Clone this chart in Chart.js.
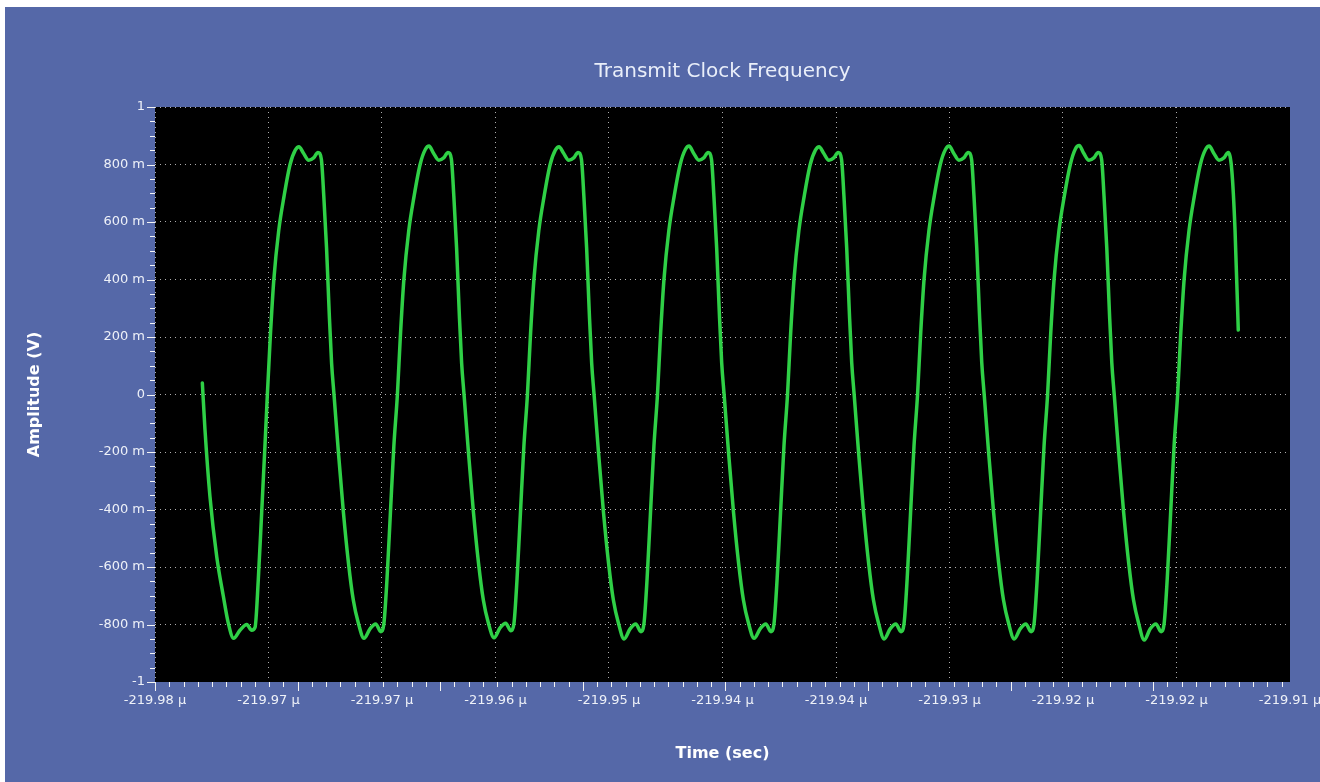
<!DOCTYPE html>
<html>
<head>
<meta charset="utf-8">
<title>Transmit Clock Frequency</title>
<script src="https://cdn.jsdelivr.net/npm/chart.js@4/dist/chart.umd.min.js"></script>
<style>
  html, body { margin: 0; padding: 0; background: #ffffff; }
  #panel { position: absolute; left: 5px; top: 7px; width: 1315px; height: 775px; background: #5568a8; }
  canvas { display: block; }
</style>
</head>
<body>
<div id="panel"><canvas id="scope" width="1315" height="775"></canvas></div>
<script>
// Capture window (µs) and axis ticks
const windowStartUs = -219.98;
const windowEndUs = -219.91;
const xTickValues = [-219.980, -219.973, -219.966, -219.959, -219.952, -219.945, -219.938, -219.931, -219.924, -219.917, -219.910];
const xTickLabels = ['-219.98 µ', '-219.97 µ', '-219.97 µ', '-219.96 µ', '-219.95 µ', '-219.94 µ', '-219.94 µ', '-219.93 µ', '-219.92 µ', '-219.92 µ', '-219.91 µ'];
const yTickValues = [-1, -0.8, -0.6, -0.4, -0.2, 0, 0.2, 0.4, 0.6, 0.8, 1];
const yTickLabels = ['-1', '-800 m', '-600 m', '-400 m', '-200 m', '0', '200 m', '400 m', '600 m', '800 m', '1'];

// Trace samples: [ns after window start, volts]
const leadIn = [[2.92,0.04],[3.08,-0.12],[3.39,-0.355],[3.81,-0.565],[4.21,-0.70],[4.52,-0.795],[4.85,-0.848],[5.24,-0.82],[5.66,-0.80],[5.96,-0.82],[6.17,-0.81],[6.37,-0.645],[6.58,-0.41],[6.78,-0.18]];
const cycle0 = [[6.93,0.00],[7.11,0.20],[7.33,0.40],[7.63,0.57],[7.96,0.69],[8.33,0.80],[8.65,0.85],[8.88,0.862],[9.15,0.84],[9.48,0.815],[9.78,0.823],[10.05,0.842],[10.26,0.818],[10.41,0.69],[10.58,0.51],[10.74,0.29],[10.89,0.11],[11.04,0.00],[11.31,-0.20],[11.62,-0.41],[11.93,-0.585],[12.23,-0.715],[12.54,-0.795],[12.89,-0.848],[13.26,-0.815],[13.61,-0.798],[13.93,-0.825],[14.11,-0.80],[14.31,-0.64],[14.52,-0.41],[14.73,-0.18]];
const cycle1 = [[14.95,0.00],[15.13,0.20],[15.35,0.40],[15.65,0.57],[15.98,0.69],[16.35,0.80],[16.67,0.852],[16.90,0.864],[17.17,0.84],[17.50,0.815],[17.80,0.823],[18.07,0.842],[18.28,0.818],[18.43,0.69],[18.60,0.51],[18.76,0.29],[18.91,0.11],[19.06,0.00],[19.33,-0.20],[19.64,-0.41],[19.95,-0.585],[20.25,-0.715],[20.56,-0.795],[20.91,-0.846],[21.28,-0.812],[21.63,-0.796],[21.95,-0.822],[22.13,-0.80],[22.33,-0.64],[22.54,-0.41],[22.75,-0.18]];
const cycle2 = [[22.97,0.00],[23.15,0.20],[23.37,0.40],[23.67,0.57],[24.00,0.69],[24.37,0.80],[24.69,0.85],[24.92,0.862],[25.19,0.84],[25.52,0.815],[25.82,0.823],[26.09,0.842],[26.30,0.818],[26.45,0.69],[26.62,0.51],[26.78,0.29],[26.93,0.11],[27.08,0.00],[27.35,-0.20],[27.66,-0.41],[27.97,-0.585],[28.27,-0.715],[28.58,-0.795],[28.93,-0.850],[29.30,-0.815],[29.65,-0.798],[29.97,-0.825],[30.15,-0.80],[30.35,-0.64],[30.56,-0.41],[30.77,-0.18]];
const cycle3 = [[30.99,0.00],[31.17,0.20],[31.39,0.40],[31.69,0.57],[32.02,0.69],[32.39,0.80],[32.71,0.852],[32.94,0.864],[33.21,0.84],[33.54,0.815],[33.84,0.823],[34.11,0.842],[34.32,0.818],[34.47,0.69],[34.64,0.51],[34.80,0.29],[34.95,0.11],[35.10,0.00],[35.37,-0.20],[35.68,-0.41],[35.99,-0.585],[36.29,-0.715],[36.60,-0.795],[36.95,-0.848],[37.32,-0.815],[37.67,-0.798],[37.99,-0.825],[38.17,-0.80],[38.37,-0.64],[38.58,-0.41],[38.79,-0.18]];
const cycle4 = [[39.01,0.00],[39.19,0.20],[39.41,0.40],[39.71,0.57],[40.04,0.69],[40.41,0.80],[40.73,0.85],[40.96,0.862],[41.23,0.84],[41.56,0.815],[41.86,0.823],[42.13,0.842],[42.34,0.818],[42.49,0.69],[42.66,0.51],[42.82,0.29],[42.97,0.11],[43.12,0.00],[43.39,-0.20],[43.70,-0.41],[44.01,-0.585],[44.31,-0.715],[44.62,-0.795],[44.97,-0.850],[45.34,-0.815],[45.69,-0.798],[46.01,-0.825],[46.19,-0.80],[46.39,-0.64],[46.60,-0.41],[46.81,-0.18]];
const cycle5 = [[47.03,0.00],[47.21,0.20],[47.43,0.40],[47.73,0.57],[48.06,0.69],[48.43,0.80],[48.75,0.852],[48.98,0.864],[49.25,0.84],[49.58,0.815],[49.88,0.823],[50.15,0.842],[50.36,0.818],[50.51,0.69],[50.68,0.51],[50.84,0.29],[50.99,0.11],[51.14,0.00],[51.41,-0.20],[51.72,-0.41],[52.03,-0.585],[52.33,-0.715],[52.64,-0.795],[52.99,-0.850],[53.36,-0.815],[53.71,-0.798],[54.03,-0.825],[54.21,-0.80],[54.41,-0.64],[54.62,-0.41],[54.83,-0.18]];
const cycle6 = [[55.05,0.00],[55.23,0.20],[55.45,0.40],[55.75,0.57],[56.08,0.69],[56.45,0.80],[56.77,0.855],[57.00,0.866],[57.27,0.84],[57.60,0.815],[57.90,0.823],[58.17,0.842],[58.38,0.818],[58.53,0.69],[58.70,0.51],[58.86,0.29],[59.01,0.11],[59.16,0.00],[59.43,-0.20],[59.74,-0.41],[60.05,-0.585],[60.35,-0.715],[60.66,-0.795],[61.01,-0.854],[61.38,-0.815],[61.73,-0.798],[62.05,-0.825],[62.23,-0.80],[62.43,-0.64],[62.64,-0.41],[62.85,-0.18]];
const cycle7 = [[63.07,0.00],[63.25,0.20],[63.47,0.40],[63.77,0.57],[64.10,0.69],[64.47,0.80],[64.79,0.852],[65.02,0.864],[65.29,0.84],[65.62,0.815],[65.92,0.823],[66.19,0.842],[66.41,0.78],[66.61,0.572],[66.81,0.224]];

// Tick-mark spacing on the axes
const yMinorStep = 0.05;
const yMajorEvery = 4;
const xMinorStepUs = 0.0008795;
const xMajorEvery = 10;

const traceColor = '#2fd046';
const gridColor = 'rgba(205, 205, 205, 0.85)';
const labelColor = '#eef1f8';
const fontFamily = '"DejaVu Sans", Verdana, sans-serif';

const tracePoints = [leadIn, cycle0, cycle1, cycle2, cycle3, cycle4, cycle5, cycle6, cycle7]
  .flat()
  .map(([ns, v]) => ({ x: windowStartUs + ns / 1000, y: v }));

// Black plot background
const plotBackground = {
  id: 'plotBackground',
  beforeDraw(chart) {
    const { ctx, chartArea: a } = chart;
    ctx.save();
    ctx.fillStyle = '#000000';
    ctx.fillRect(a.left, a.top, a.right - a.left, a.bottom - a.top);
    ctx.restore();
  }
};

// Major/minor tick marks outside the plot
const tickMarks = {
  id: 'tickMarks',
  afterDraw(chart) {
    const { ctx, chartArea: a, scales: { x, y } } = chart;
    ctx.save();
    ctx.strokeStyle = '#f4f4f4';
    ctx.lineWidth = 1;
    ctx.beginPath();
    for (let i = 0; ; i++) {
      const v = -1 + i * yMinorStep;
      if (v > 1 + 1e-9) break;
      const py = Math.round(y.getPixelForValue(v)) + 0.5;
      const len = i % yMajorEvery === 0 ? 8 : 5;
      ctx.moveTo(a.left - len, py);
      ctx.lineTo(a.left, py);
    }
    for (let i = 0; ; i++) {
      const v = windowStartUs + i * xMinorStepUs;
      if (v > windowEndUs + 1e-9) break;
      const px = Math.round(x.getPixelForValue(v)) + 0.5;
      const len = i % xMajorEvery === 0 ? 9 : 5;
      ctx.moveTo(px, a.bottom);
      ctx.lineTo(px, a.bottom + len);
    }
    ctx.stroke();
    ctx.restore();
  }
};

new Chart(document.getElementById('scope'), {
  type: 'line',
  data: {
    datasets: [{
      label: 'Amplitude',
      data: tracePoints,
      borderColor: traceColor,
      borderWidth: 3.5,
      pointRadius: 0,
      cubicInterpolationMode: 'monotone',
      fill: false,
      borderJoinStyle: 'round',
      borderCapStyle: 'round'
    }]
  },
  options: {
    responsive: false,
    animation: false,
    devicePixelRatio: 1,
    layout: { padding: { left: 0, right: 30, top: 0, bottom: 0 } },
    plugins: {
      legend: { display: false },
      tooltip: { enabled: false },
      title: {
        display: true,
        fullSize: false,
        text: 'Transmit Clock Frequency',
        color: '#e9eef9',
        font: { family: fontFamily, size: 20, weight: 'normal', lineHeight: 1.2 },
        padding: { top: 53, bottom: 23 }
      }
    },
    scales: {
      x: {
        type: 'linear',
        min: windowStartUs,
        max: windowEndUs,
        afterBuildTicks(scale) { scale.ticks = xTickValues.map(v => ({ value: v })); },
        afterFit(scale) { scale.height = 100; scale.paddingLeft = 0; scale.paddingRight = 0; },
        ticks: {
          autoSkip: false,
          maxRotation: 0,
          padding: 11,
          color: labelColor,
          font: { family: fontFamily, size: 13 },
          callback: (v, i) => xTickLabels[i]
        },
        grid: {
          drawTicks: false,
          lineWidth: 1,
          color: ctx => (ctx.index === xTickValues.length - 1 ? 'rgba(0,0,0,0)' : gridColor)
        },
        border: { display: false, dash: [1, 4] },
        title: {
          display: true,
          text: 'Time (sec)',
          color: '#ffffff',
          font: { family: fontFamily, size: 16, weight: 'bold', lineHeight: 1.2 },
          padding: { top: 0, bottom: 19 }
        }
      },
      y: {
        type: 'linear',
        min: -1,
        max: 1,
        afterBuildTicks(scale) { scale.ticks = yTickValues.map(v => ({ value: v })); },
        afterFit(scale) { scale.width = 150; },
        ticks: {
          padding: 10,
          color: labelColor,
          font: { family: fontFamily, size: 13 },
          callback: (v, i) => yTickLabels[i]
        },
        grid: {
          drawTicks: false,
          lineWidth: 1,
          color: ctx => (ctx.index === 0 ? 'rgba(0,0,0,0)' : gridColor)
        },
        border: { display: false, dash: [1, 4] },
        title: {
          display: true,
          text: 'Amplitude (V)',
          color: '#ffffff',
          font: { family: fontFamily, size: 16, weight: 'bold', lineHeight: 1.2 },
          padding: { top: 20, bottom: 0 }
        }
      }
    }
  },
  plugins: [plotBackground, tickMarks]
});
</script>
</body>
</html>
